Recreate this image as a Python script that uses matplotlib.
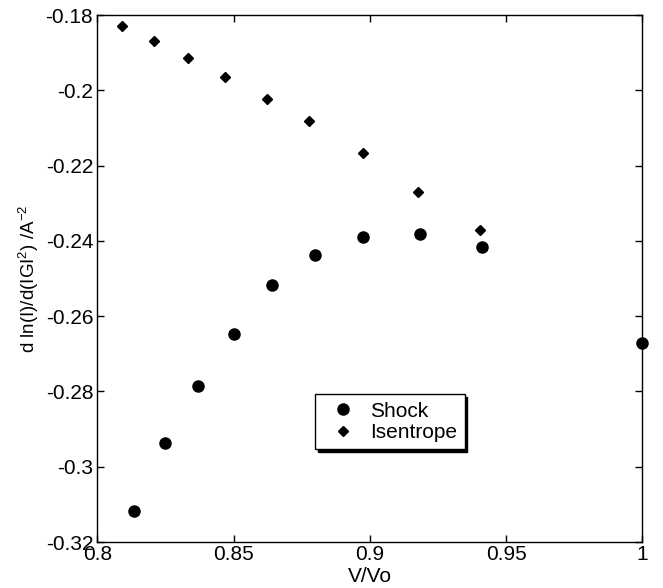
import matplotlib
matplotlib.use("Agg")
import matplotlib.pyplot as plt

plt.rcParams['font.family'] = ['Liberation Sans', 'DejaVu Sans']
plt.rcParams['mathtext.fontset'] = 'custom'
plt.rcParams['mathtext.rm'] = 'Liberation Sans'
plt.rcParams['mathtext.it'] = 'Liberation Sans:italic'
plt.rcParams['mathtext.bf'] = 'Liberation Sans:bold'

shock_x = [0.8135, 0.8247, 0.837, 0.850, 0.864, 0.8799, 0.8976, 0.9185, 0.9412, 1.0]
shock_y = [-0.3118, -0.2938, -0.2785, -0.2648, -0.2517, -0.2438, -0.2391, -0.2383, -0.2417, -0.2672]

isen_x = [0.8092, 0.8209, 0.8334, 0.8470, 0.8623, 0.8777, 0.8974, 0.9178, 0.9404]
isen_y = [-0.1828, -0.1869, -0.1914, -0.1965, -0.2024, -0.2082, -0.2167, -0.2271, -0.2372]

xticks = [0.8, 0.85, 0.9, 0.95, 1.0]
xticklabels = ['0.8', '0.85', '0.9', '0.95', '1']
yticks = [-0.32, -0.30, -0.28, -0.26, -0.24, -0.22, -0.20, -0.18]
yticklabels = ['-0.32', '-0.3', '-0.28', '-0.26', '-0.24', '-0.22', '-0.2', '-0.18']

fig = plt.figure(figsize=(6.63, 5.88), dpi=100)
ax = fig.add_axes([97.3/663, 1-542/588, 545/663, 527/588])

ax.plot(shock_x, shock_y, 'o', color='black', markersize=8, clip_on=False, label='Shock')
ax.plot(isen_x, isen_y, 'D', color='black', markersize=5, clip_on=False, label='Isentrope')

ax.set_xlim(0.8, 1.0)
ax.set_ylim(-0.32, -0.18)
ax.set_xticks(xticks)
ax.set_xticklabels(xticklabels)
ax.set_yticks(yticks)
ax.set_yticklabels(yticklabels)
ax.tick_params(direction='in', length=5, width=1, top=True, right=True,
               labelsize=15, pad=3, colors='black')
ax.tick_params(axis='x', pad=2)
for s in ax.spines.values():
    s.set_linewidth(1.0)
    s.set_color('black')

ax.set_xlabel('V/Vo', fontsize=15, labelpad=2)
ax.set_ylabel(r'd ln(I)/d(IGI$^{\mathrm{2}}$) /A$^{\mathrm{-2}}$', fontsize=13.5, labelpad=3)

leg = ax.legend(loc='upper left', bbox_to_anchor=(0.3995, 0.280), fancybox=False,
                shadow={'color': 'black', 'alpha': 1.0}, edgecolor='black', framealpha=1,
                fontsize=15, handletextpad=0.3, borderpad=0.35, labelspacing=0.1,
                handlelength=2.0, borderaxespad=0)
leg.get_frame().set_linewidth(1.0)

fig.savefig('out.png', dpi=100, facecolor='white')
